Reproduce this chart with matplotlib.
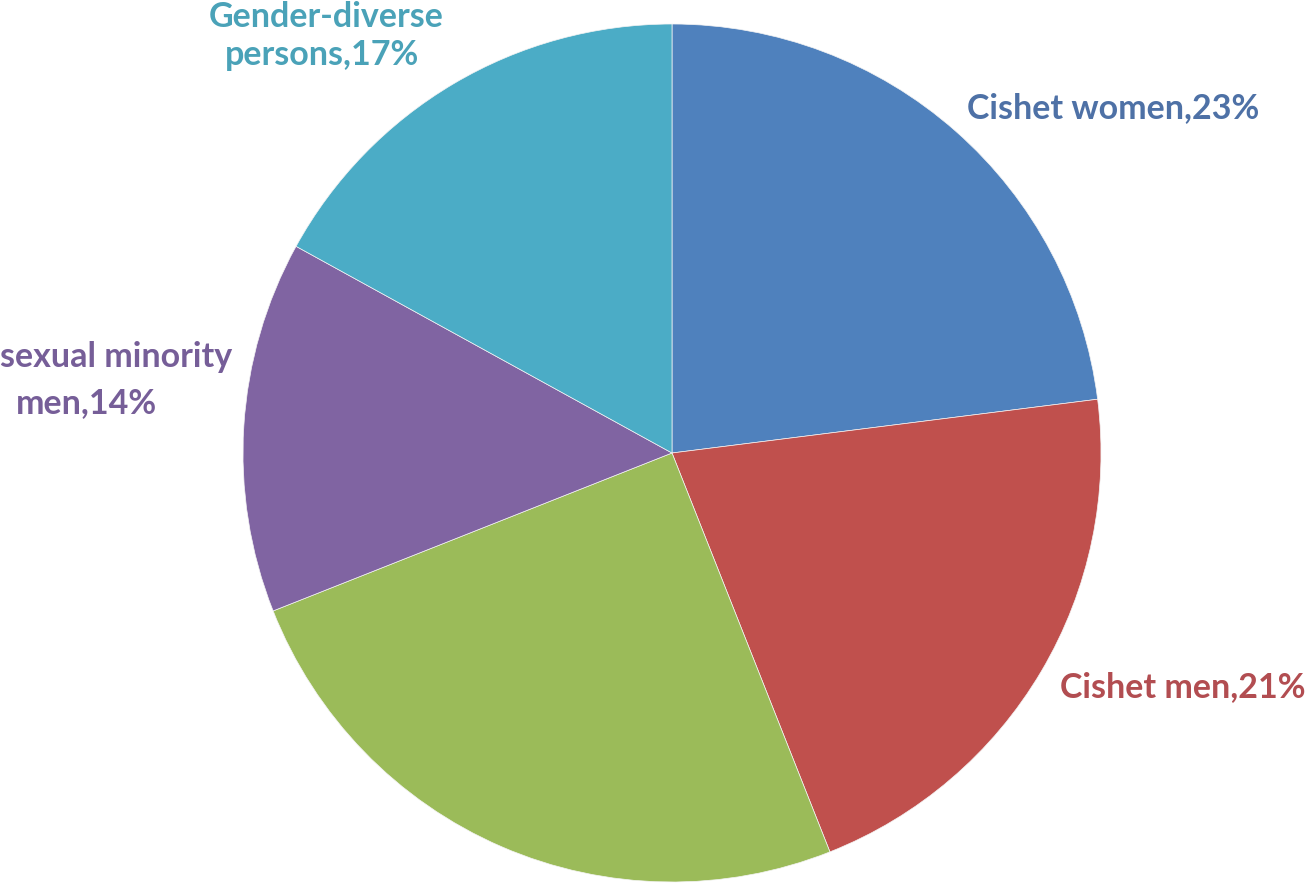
import matplotlib
matplotlib.use("Agg")
import matplotlib.pyplot as plt

# share of respondents by group (%)
CATEGORIES = ["Cishet women", "Cishet men", "Sexual minority women",
              "sexual minority\nmen", "Gender-diverse\npersons"]
SHARES = [23, 21, 25, 14, 17]
SHOW_LABEL = [True, True, False, True, True]

SLICE_COLORS = ["#4f81bd", "#c0504d", "#9bbb59", "#8064a2", "#4bacc6"]
TEXT_COLORS = ["#4e71a6", "#b24d51", None, "#765e98", "#4aa2b8"]

W, H = 1312, 883
CENTER = (672, H - 453)
RADIUS = 429

# label line anchors in pixels from top-left: (x, baseline y, ha)
LABEL_POS = {
    0: [(1113, 118, "center")],
    1: [(1183, 697, "center")],
    3: [(232, 367, "right"), (86, 413, "center")],
    4: [(326, 27, "center"), (322, 65, "center")],
}

fig = plt.figure(figsize=(W / 100, H / 100), dpi=100)
ax = fig.add_axes([0, 0, 1, 1])
ax.pie(SHARES, colors=SLICE_COLORS, startangle=90, counterclock=False,
       center=CENTER, radius=RADIUS,
       wedgeprops=dict(edgecolor="#f4f4f4", linewidth=0.5))
ax.set_xlim(0, W)
ax.set_ylim(0, H)
ax.set_aspect("equal")
ax.axis("off")

for i, name in enumerate(CATEGORIES):
    if not SHOW_LABEL[i]:
        continue
    lines = f"{name},{SHARES[i]}%".split("\n")
    for line, (x, y, ha) in zip(lines, LABEL_POS[i]):
        ax.text(x, H - y, line, ha=ha, va="baseline", fontsize=24.5,
                fontfamily="Lato", fontweight="bold", color=TEXT_COLORS[i])

fig.savefig("out.png", dpi=100, facecolor="white")
